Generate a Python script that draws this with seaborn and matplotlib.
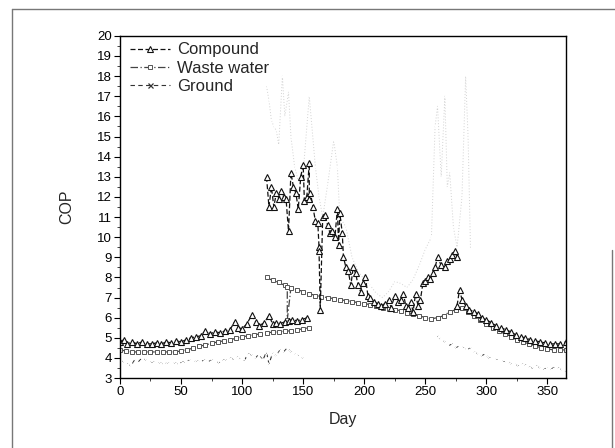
import numpy as np
import pandas as pd
import matplotlib
matplotlib.use("Agg")
import matplotlib.pyplot as plt
from matplotlib.lines import Line2D
from matplotlib.ticker import MultipleLocator
import seaborn as sns

# ---------------- data ----------------
# Compound: heating (days 0-155), cooling (120-276), heating (276-365)
comp_a_day = [0, 3, 6, 10, 14, 18, 22, 26, 30, 34, 38, 42, 46, 50, 54, 58, 62, 66, 70, 74, 78, 82,
              86, 90, 94, 97, 100, 104, 108, 111, 114, 118, 122, 125, 128, 131, 135, 138, 141, 145, 149, 153]
comp_a_cop = [4.8, 4.9, 4.7, 4.8, 4.7, 4.8, 4.7, 4.7, 4.75, 4.7, 4.8, 4.75, 4.85, 4.8, 4.9, 5.0, 5.05, 5.1, 5.35, 5.2,
              5.3, 5.25, 5.35, 5.4, 5.8, 5.5, 5.45, 5.7, 6.15, 5.8, 5.6, 5.75, 6.1, 5.7, 5.75, 5.7, 5.8, 5.85, 5.9, 5.85, 5.9, 6.0]
comp_b_day = [120, 122, 124, 126, 128, 130, 132, 134, 136, 138, 140, 142, 144, 146, 148, 150, 151, 153, 155, 155,
              156, 158, 160, 162, 163, 163, 164, 166, 168, 170, 172, 174, 176, 178, 179, 180, 182, 183, 185, 187,
              189, 191, 193, 195, 197, 199, 201, 203, 205, 208, 211, 214, 217, 220, 222, 225, 228, 230, 232, 234,
              236, 238, 240, 242, 244, 246, 248, 250, 252, 254, 256, 258, 260, 263, 266, 268, 270, 272, 274, 276]
comp_b_cop = [13.0, 11.5, 12.5, 11.5, 12.2, 11.9, 12.3, 12.0, 11.9, 10.3, 13.2, 12.5, 12.2, 11.4, 13.0, 13.6, 11.8, 12.0, 13.7, 11.9,
              12.2, 11.5, 10.8, 10.7, 9.5, 9.3, 6.4, 11.0, 11.1, 10.6, 10.2, 10.3, 10.0, 11.4, 9.6, 11.2,
              10.2, 9.0, 8.5, 8.3, 7.6, 8.5, 8.2, 7.6, 7.3, 7.7, 8.0, 7.1, 7.0, 6.8, 6.7, 6.6, 6.7, 6.9, 6.5,
              7.1, 6.8, 6.9, 7.2, 6.6, 6.5, 6.8, 6.3, 7.2, 6.6, 6.9, 7.7, 7.8, 8.0, 7.9, 8.2, 8.5, 9.0, 8.6,
              8.5, 8.8, 8.9, 9.1, 9.3, 9.0]
comp_c_day = [276, 278, 280, 283, 286, 290, 293, 296, 300, 304, 308, 312, 316, 320, 324, 328, 332, 336,
              340, 344, 348, 352, 356, 360, 365]
comp_c_cop = [6.6, 7.4, 6.9, 6.6, 6.4, 6.3, 6.2, 6.0, 5.9, 5.75, 5.6, 5.5, 5.4, 5.3, 5.15, 5.05, 5.0, 4.9,
              4.85, 4.8, 4.75, 4.7, 4.7, 4.7, 4.8]

# Waste water
ww_a_day = [0, 5, 10, 15, 20, 25, 30, 35, 40, 45, 50, 55, 60, 65, 70, 75, 80, 85, 90, 95, 100, 105,
            110, 115, 120, 125, 130, 135, 140, 145, 150, 155]
ww_a_cop = [4.4, 4.35, 4.3, 4.3, 4.3, 4.3, 4.3, 4.3, 4.3, 4.3, 4.35, 4.4, 4.5, 4.58, 4.65, 4.72, 4.8, 4.85,
            4.9, 4.98, 5.05, 5.1, 5.15, 5.2, 5.25, 5.28, 5.3, 5.33, 5.35, 5.4, 5.45, 5.5]
ww_b_day = [120, 125, 130, 135, 137, 137, 140, 145, 150, 155, 160, 165, 170, 175, 180, 185, 190, 195, 200,
            205, 210, 215, 220, 225, 230, 235, 240, 245, 250, 255, 260]
ww_b_cop = [8.0, 7.85, 7.75, 7.6, 7.55, 5.9, 7.5, 7.4, 7.3, 7.2, 7.1, 7.05, 7.0, 6.95, 6.9, 6.85, 6.8, 6.75,
            6.7, 6.65, 6.6, 6.5, 6.45, 6.4, 6.35, 6.25, 6.2, 6.1, 6.0, 5.95, 6.0]
ww_c_day = [260, 265, 270, 275, 280, 285, 290, 295, 300, 305, 310, 315, 320, 325, 330, 335, 340, 345,
            350, 355, 360, 365]
ww_c_cop = [6.0, 6.1, 6.3, 6.4, 6.5, 6.3, 6.1, 5.9, 5.7, 5.5, 5.35, 5.2, 5.05, 4.9, 4.8, 4.7, 4.6, 4.5,
            4.45, 4.4, 4.4, 4.4]

# Ground
gr_a_day = [0, 3, 6, 9, 12, 15, 18, 21, 24, 27, 30, 33, 36, 39, 42, 45, 48, 51, 54, 57, 60, 63, 66, 69,
            72, 75, 78, 81, 84, 87, 90, 93, 96, 99, 102, 105, 108, 111, 114, 117, 120, 122, 125, 128, 131,
            134, 137, 140, 143, 146, 150]
gr_a_cop = [3.9, 3.8, 3.7, 3.6, 3.9, 3.8, 4.0, 3.9, 3.8, 3.8, 3.75, 3.75, 3.7, 3.75, 3.7, 3.75, 3.7, 3.8,
            3.8, 3.9, 3.8, 3.85, 3.8, 3.9, 3.8, 3.9, 3.85, 3.75, 3.9, 3.9, 4.0, 3.95, 4.05, 3.9, 3.9, 4.2,
            4.15, 4.0, 4.2, 3.9, 4.3, 3.7, 4.25, 4.1, 4.4, 4.3, 4.5, 4.3, 4.2, 4.1, 4.0]
gr_b_day = [120, 122, 124, 126, 128, 130, 133, 135, 138, 140, 143, 146, 150, 155, 160, 163, 166, 170, 175,
            178, 180, 185, 190, 195, 200, 205, 210, 215, 220, 225, 230, 235, 240, 245, 250, 255, 258, 260,
            263, 266, 268, 270, 273, 276, 280, 283, 285, 287]
gr_b_cop = [17.5, 16.8, 15.8, 15.5, 15.3, 14.6, 18.0, 16.0, 17.2, 15.0, 13.5, 12.8, 13.2, 17.0, 13.5, 12.0,
            11.0, 12.6, 14.8, 13.5, 11.0, 10.5, 9.0, 8.3, 7.9, 7.6, 7.2, 7.0, 7.3, 7.8, 7.7, 7.5, 7.9, 8.6,
            9.4, 10.0, 15.5, 16.5, 13.0, 17.0, 12.5, 13.2, 10.5, 9.5, 12.0, 18.0, 15.0, 9.4]
gr_c_day = [260, 263, 266, 269, 272, 275, 278, 281, 284, 287, 290, 293, 296, 299, 302, 305, 308, 311, 314,
            317, 320, 323, 326, 329, 332, 335, 338, 341, 344, 347, 350, 353, 356, 359, 362, 365]
gr_c_cop = [5.1, 4.9, 4.8, 4.6, 4.7, 4.5, 4.6, 4.5, 4.4, 4.5, 4.3, 4.2, 4.1, 4.2, 4.0, 4.0, 3.9, 3.9, 3.8,
            3.85, 3.7, 3.7, 3.6, 3.7, 3.65, 3.55, 3.5, 3.6, 3.5, 3.45, 3.5, 3.45, 3.55, 3.5, 3.4, 3.35]

x_ticks = [0, 50, 100, 150, 200, 250, 300, 350]
y_ticks = list(range(3, 21))

# ---------------- plotting ----------------
sns.set_theme(style="white")
plt.rcParams['font.family'] = ['Liberation Sans', 'DejaVu Sans']

fig = plt.figure(figsize=(6.15, 4.48), dpi=100)
ax = fig.add_axes([0.195, 0.156, 0.725, 0.764])

def seg(days, cops, **kw):
    df = pd.DataFrame({"Day": days, "COP": cops})
    sns.lineplot(data=df, x="Day", y="COP", ax=ax, estimator=None, sort=False, **kw)

ground_style = dict(color="#333333", linestyle=(0, (4, 3)), linewidth=0.8, marker="x",
                    markersize=3.6, markeredgewidth=0.9)
ground_cool = dict(color="#d2d2d2", linestyle=(0, (1, 2)), linewidth=0.7, marker=".",
                   markersize=1.2)
ww_style = dict(color="#444444", linestyle=(0, (6, 2, 1, 2)), linewidth=0.9, marker="s",
                markersize=3.4, markerfacecolor="white", markeredgecolor="#555555", markeredgewidth=0.7)
comp_style = dict(color="#111111", linestyle=(0, (4, 2)), linewidth=0.9, marker="^",
                  markersize=4.2, markerfacecolor="white", markeredgecolor="#111111", markeredgewidth=0.8)

seg(gr_b_day, gr_b_cop, **ground_cool)
seg(gr_a_day, gr_a_cop, **ground_style)
seg(gr_c_day, gr_c_cop, **ground_style)
seg(ww_a_day, ww_a_cop, **ww_style)
seg(ww_b_day, ww_b_cop, **ww_style)
seg(ww_c_day, ww_c_cop, **ww_style)
seg(comp_a_day, comp_a_cop, **comp_style)
seg(comp_b_day, comp_b_cop, **comp_style)
seg(comp_c_day, comp_c_cop, **comp_style)

ax.set_xlim(0, 365)
ax.set_ylim(3, 20)
ax.set_xticks(x_ticks)
ax.set_yticks(y_ticks)
ax.xaxis.set_minor_locator(MultipleLocator(25))
ax.yaxis.set_minor_locator(MultipleLocator(0.5))
ax.tick_params(axis="both", which="major", direction="out", length=4, width=0.8,
               labelsize=9.5, colors="black", bottom=True, left=True, top=False, right=False, pad=2)
ax.tick_params(axis="both", which="minor", direction="out", length=2, width=0.6,
               bottom=True, left=True, top=False, right=False)
for s in ax.spines.values():
    s.set_color("black")
    s.set_linewidth(1.0)
ax.set_xlabel("Day", fontsize=11.5, labelpad=10)
ax.set_ylabel("COP", fontsize=11.5, labelpad=16)

handles = [
    Line2D([], [], **comp_style),
    Line2D([], [], **ww_style),
    Line2D([], [], **ground_style),
]
ax.legend(handles, ["Compound", "Waste water", "Ground"], loc="upper left", frameon=False,
          fontsize=12, handlelength=2.4, handletextpad=0.45, labelspacing=0.2,
          borderaxespad=0.2, bbox_to_anchor=(0.0, 1.01))

# outer scan frame
fig.add_artist(Line2D([12/615, 12/615], [0, 1 - 9/448], transform=fig.transFigure, color="#777777", lw=1))
fig.add_artist(Line2D([12/615, 1], [1 - 9/448, 1 - 9/448], transform=fig.transFigure, color="#777777", lw=1))
fig.add_artist(Line2D([612/615, 612/615], [0, 1 - 250/448], transform=fig.transFigure, color="#777777", lw=1))

fig.savefig("out.png", dpi=100)
